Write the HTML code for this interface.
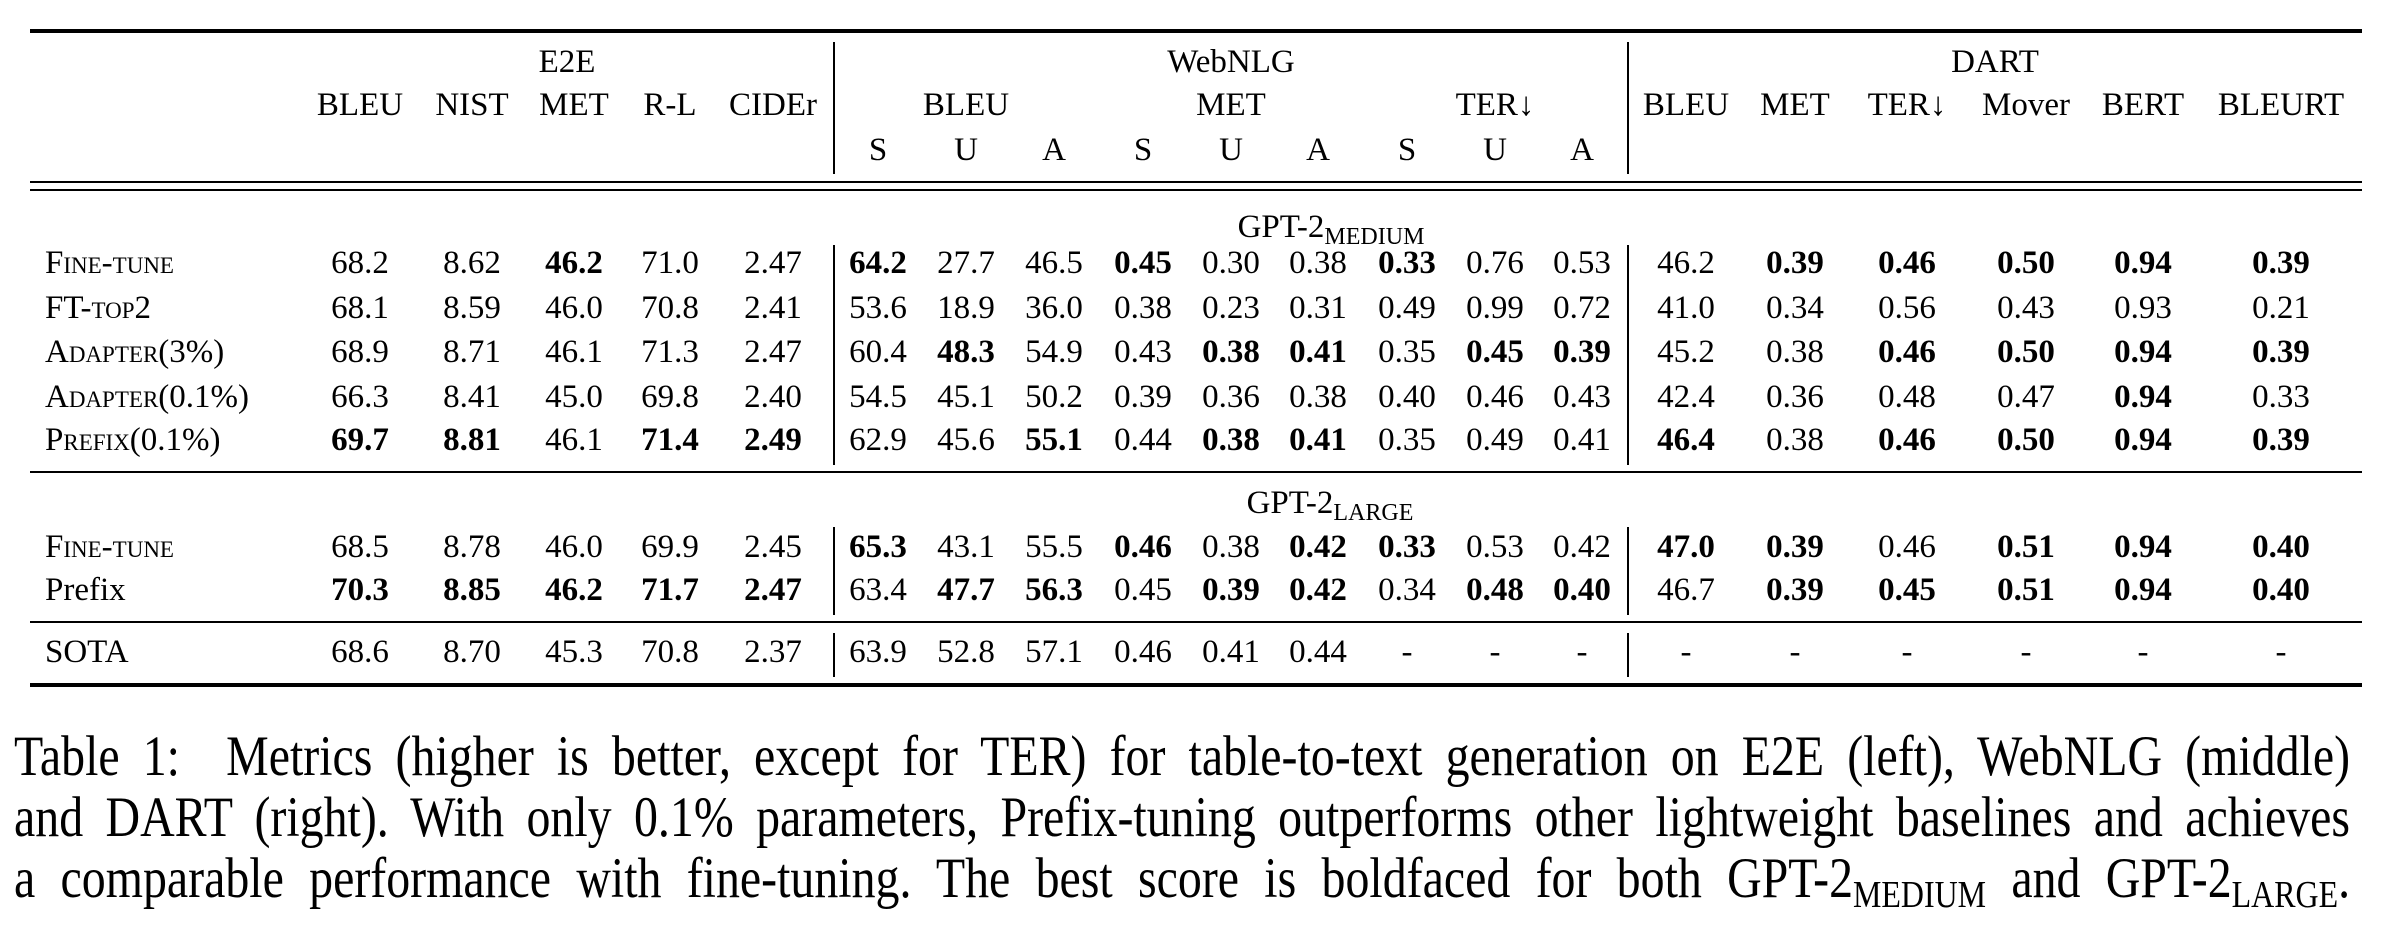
<!DOCTYPE html>
<html><head><meta charset="utf-8"><style>
body{margin:0;width:2406px;height:940px;background:#fff;position:relative;overflow:hidden;font-family:"Liberation Serif",serif;color:#000}
.r{position:absolute;left:30px;width:2332px;background:#000}
.v{position:absolute;width:2px;background:#000}
.row{position:absolute;left:0;width:2406px;height:34px;font-size:33px;line-height:34px}
.row span{position:absolute;transform:translateX(-50%);white-space:nowrap}
.row span.l{transform:none;left:45px}
.sc{font-variant:small-caps}
b{font-weight:bold}
.a1{left:360px}.a2{left:472px}.a3{left:574px}.a4{left:670px}.a5{left:773px}
.w1{left:878px}.w2{left:966px}.w3{left:1054px}.w4{left:1143px}.w5{left:1231px}.w6{left:1318px}.w7{left:1407px}.w8{left:1495px}.w9{left:1582px}
.d1{left:1686px}.d2{left:1795px}.d3{left:1907px}.d4{left:2026px}.d5{left:2143px}.d6{left:2281px}
sub.s{font-size:24px;vertical-align:-7px;line-height:0}
.cap{position:absolute;left:14px;width:2781px;font-size:57px;line-height:61px;top:726px;transform:scaleX(0.84);transform-origin:0 0}
.cap div{text-align:justify;text-align-last:justify}
.cap sub{font-size:38px;vertical-align:-10px;line-height:0}
</style></head><body>
<div class="r" style="top:29px;height:4px"></div>
<div class="r" style="top:181px;height:2px"></div>
<div class="r" style="top:189px;height:2px"></div>
<div class="r" style="top:471px;height:2px"></div>
<div class="r" style="top:621px;height:2px"></div>
<div class="r" style="top:683px;height:4px"></div>

<div class="v" style="left:833px;top:42px;height:132px"></div>
<div class="v" style="left:1627px;top:42px;height:132px"></div>
<div class="v" style="left:833px;top:245px;height:220px"></div>
<div class="v" style="left:1627px;top:245px;height:220px"></div>
<div class="v" style="left:833px;top:527px;height:88px"></div>
<div class="v" style="left:1627px;top:527px;height:88px"></div>
<div class="v" style="left:833px;top:633px;height:44px"></div>
<div class="v" style="left:1627px;top:633px;height:44px"></div>

<div class="row" style="top:45px"><span style="left:567px">E2E</span><span style="left:1231px">WebNLG</span><span style="left:1995px">DART</span></div>
<div class="row" style="top:88px"><span class="a1">BLEU</span><span class="a2">NIST</span><span class="a3">MET</span><span class="a4">R-L</span><span class="a5">CIDEr</span><span class="w2">BLEU</span><span class="w5">MET</span><span class="w8">TER&#8595;</span><span class="d1">BLEU</span><span class="d2">MET</span><span class="d3">TER&#8595;</span><span class="d4">Mover</span><span class="d5">BERT</span><span class="d6">BLEURT</span></div>
<div class="row" style="top:133px"><span class="w1">S</span><span class="w2">U</span><span class="w3">A</span><span class="w4">S</span><span class="w5">U</span><span class="w6">A</span><span class="w7">S</span><span class="w8">U</span><span class="w9">A</span></div>

<div class="row" style="top:210px"><span style="left:1331px">GPT-2<sub class="s">MEDIUM</sub></span></div>
<div class="row" style="top:246px"><span class="l sc">Fine-tune</span><span class="a1">68.2</span><span class="a2">8.62</span><span class="a3"><b>46.2</b></span><span class="a4">71.0</span><span class="a5">2.47</span><span class="w1"><b>64.2</b></span><span class="w2">27.7</span><span class="w3">46.5</span><span class="w4"><b>0.45</b></span><span class="w5">0.30</span><span class="w6">0.38</span><span class="w7"><b>0.33</b></span><span class="w8">0.76</span><span class="w9">0.53</span><span class="d1">46.2</span><span class="d2"><b>0.39</b></span><span class="d3"><b>0.46</b></span><span class="d4"><b>0.50</b></span><span class="d5"><b>0.94</b></span><span class="d6"><b>0.39</b></span></div>
<div class="row" style="top:291px"><span class="l sc">FT-top2</span><span class="a1">68.1</span><span class="a2">8.59</span><span class="a3">46.0</span><span class="a4">70.8</span><span class="a5">2.41</span><span class="w1">53.6</span><span class="w2">18.9</span><span class="w3">36.0</span><span class="w4">0.38</span><span class="w5">0.23</span><span class="w6">0.31</span><span class="w7">0.49</span><span class="w8">0.99</span><span class="w9">0.72</span><span class="d1">41.0</span><span class="d2">0.34</span><span class="d3">0.56</span><span class="d4">0.43</span><span class="d5">0.93</span><span class="d6">0.21</span></div>
<div class="row" style="top:335px"><span class="l sc">Adapter(3%)</span><span class="a1">68.9</span><span class="a2">8.71</span><span class="a3">46.1</span><span class="a4">71.3</span><span class="a5">2.47</span><span class="w1">60.4</span><span class="w2"><b>48.3</b></span><span class="w3">54.9</span><span class="w4">0.43</span><span class="w5"><b>0.38</b></span><span class="w6"><b>0.41</b></span><span class="w7">0.35</span><span class="w8"><b>0.45</b></span><span class="w9"><b>0.39</b></span><span class="d1">45.2</span><span class="d2">0.38</span><span class="d3"><b>0.46</b></span><span class="d4"><b>0.50</b></span><span class="d5"><b>0.94</b></span><span class="d6"><b>0.39</b></span></div>
<div class="row" style="top:380px"><span class="l sc">Adapter(0.1%)</span><span class="a1">66.3</span><span class="a2">8.41</span><span class="a3">45.0</span><span class="a4">69.8</span><span class="a5">2.40</span><span class="w1">54.5</span><span class="w2">45.1</span><span class="w3">50.2</span><span class="w4">0.39</span><span class="w5">0.36</span><span class="w6">0.38</span><span class="w7">0.40</span><span class="w8">0.46</span><span class="w9">0.43</span><span class="d1">42.4</span><span class="d2">0.36</span><span class="d3">0.48</span><span class="d4">0.47</span><span class="d5"><b>0.94</b></span><span class="d6">0.33</span></div>
<div class="row" style="top:423px"><span class="l sc">Prefix(0.1%)</span><span class="a1"><b>69.7</b></span><span class="a2"><b>8.81</b></span><span class="a3">46.1</span><span class="a4"><b>71.4</b></span><span class="a5"><b>2.49</b></span><span class="w1">62.9</span><span class="w2">45.6</span><span class="w3"><b>55.1</b></span><span class="w4">0.44</span><span class="w5"><b>0.38</b></span><span class="w6"><b>0.41</b></span><span class="w7">0.35</span><span class="w8">0.49</span><span class="w9">0.41</span><span class="d1"><b>46.4</b></span><span class="d2">0.38</span><span class="d3"><b>0.46</b></span><span class="d4"><b>0.50</b></span><span class="d5"><b>0.94</b></span><span class="d6"><b>0.39</b></span></div>

<div class="row" style="top:486px"><span style="left:1330px">GPT-2<sub class="s">LARGE</sub></span></div>
<div class="row" style="top:530px"><span class="l sc">Fine-tune</span><span class="a1">68.5</span><span class="a2">8.78</span><span class="a3">46.0</span><span class="a4">69.9</span><span class="a5">2.45</span><span class="w1"><b>65.3</b></span><span class="w2">43.1</span><span class="w3">55.5</span><span class="w4"><b>0.46</b></span><span class="w5">0.38</span><span class="w6"><b>0.42</b></span><span class="w7"><b>0.33</b></span><span class="w8">0.53</span><span class="w9">0.42</span><span class="d1"><b>47.0</b></span><span class="d2"><b>0.39</b></span><span class="d3">0.46</span><span class="d4"><b>0.51</b></span><span class="d5"><b>0.94</b></span><span class="d6"><b>0.40</b></span></div>
<div class="row" style="top:573px"><span class="l">Prefix</span><span class="a1"><b>70.3</b></span><span class="a2"><b>8.85</b></span><span class="a3"><b>46.2</b></span><span class="a4"><b>71.7</b></span><span class="a5"><b>2.47</b></span><span class="w1">63.4</span><span class="w2"><b>47.7</b></span><span class="w3"><b>56.3</b></span><span class="w4">0.45</span><span class="w5"><b>0.39</b></span><span class="w6"><b>0.42</b></span><span class="w7">0.34</span><span class="w8"><b>0.48</b></span><span class="w9"><b>0.40</b></span><span class="d1">46.7</span><span class="d2"><b>0.39</b></span><span class="d3"><b>0.45</b></span><span class="d4"><b>0.51</b></span><span class="d5"><b>0.94</b></span><span class="d6"><b>0.40</b></span></div>

<div class="row" style="top:635px"><span class="l">SOTA</span><span class="a1">68.6</span><span class="a2">8.70</span><span class="a3">45.3</span><span class="a4">70.8</span><span class="a5">2.37</span><span class="w1">63.9</span><span class="w2">52.8</span><span class="w3">57.1</span><span class="w4">0.46</span><span class="w5">0.41</span><span class="w6">0.44</span><span class="w7">-</span><span class="w8">-</span><span class="w9">-</span><span class="d1">-</span><span class="d2">-</span><span class="d3">-</span><span class="d4">-</span><span class="d5">-</span><span class="d6">-</span></div>

<div class="cap">
<div>Table 1:&nbsp; Metrics (higher is better, except for TER) for table-to-text generation on E2E (left), WebNLG (middle)</div>
<div>and DART (right). With only 0.1% parameters, Prefix-tuning outperforms other lightweight baselines and achieves</div>
<div>a comparable performance with fine-tuning. The best score is boldfaced for both GPT-2<sub>MEDIUM</sub> and GPT-2<sub>LARGE</sub>.</div>
</div>
</body></html>
